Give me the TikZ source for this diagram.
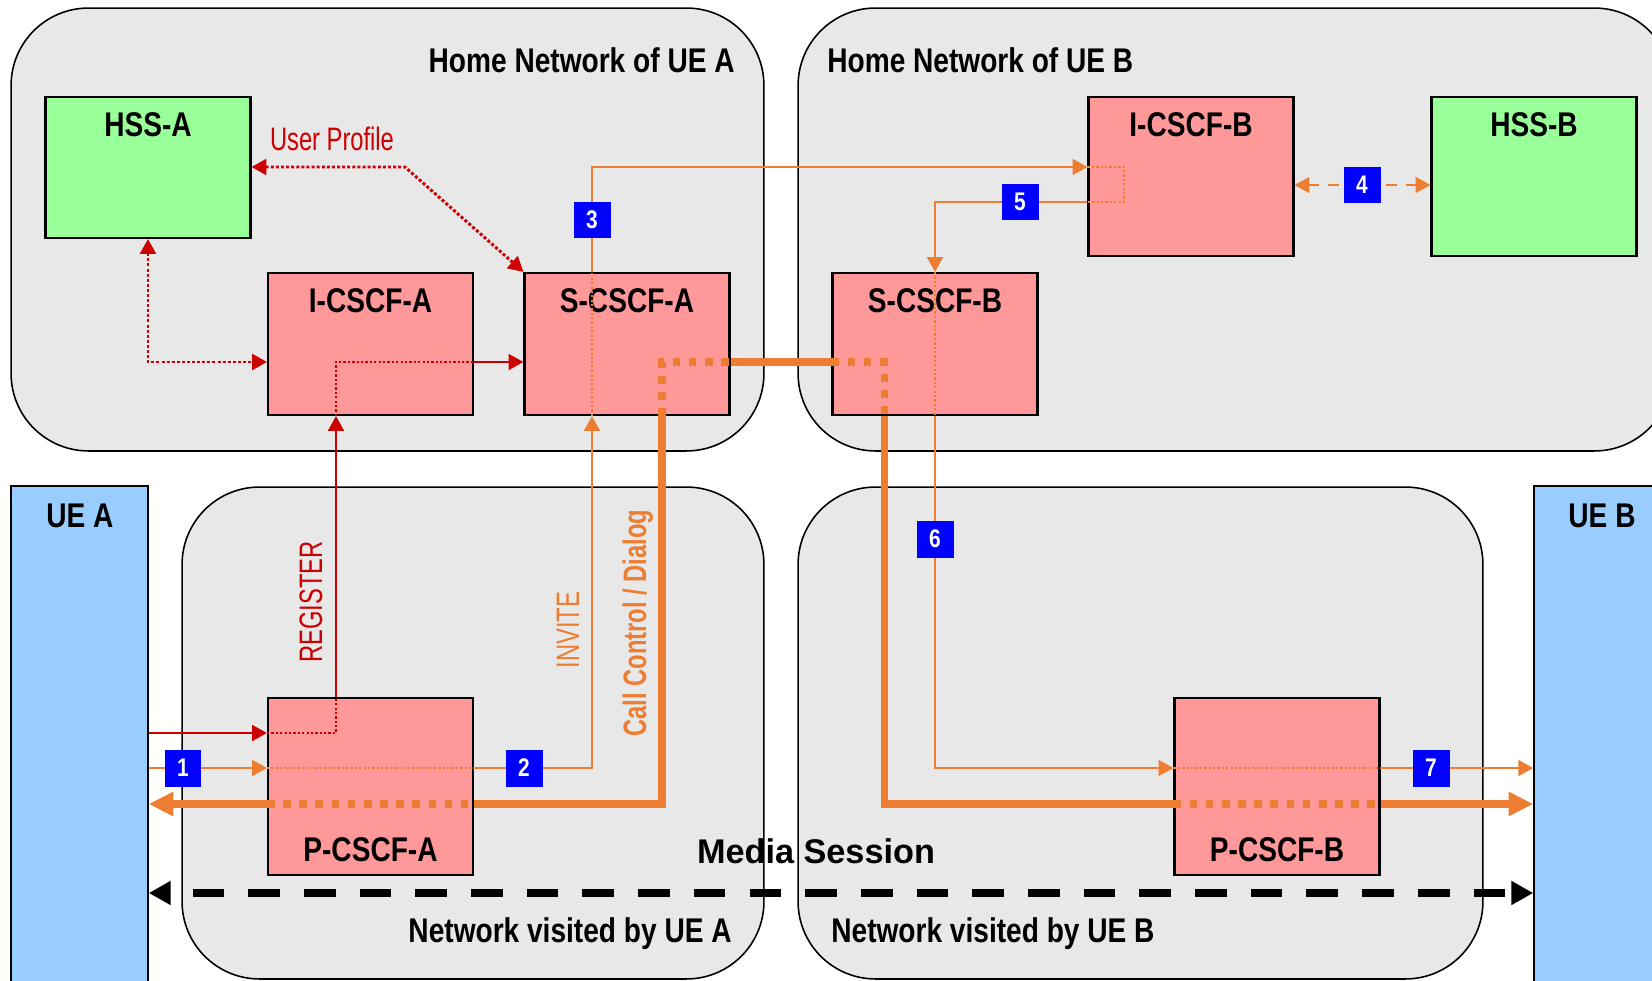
\documentclass[tikz,border=0pt]{standalone}
\usepackage{fontspec}
\setmainfont{Liberation Sans}
\newfontfamily\narrowfont[FakeStretch=0.82]{Liberation Sans}
\newfontfamily\slimfont[FakeStretch=0.73]{Liberation Sans}
\usetikzlibrary{arrows.meta}

\definecolor{netgray}{HTML}{E8E8E8}
\definecolor{cscfpink}{HTML}{FF9999}
\definecolor{hssgreen}{HTML}{99FF99}
\definecolor{ueblue}{HTML}{99CCFF}
\definecolor{sipred}{HTML}{CC0000}
\definecolor{sipor}{HTML}{ED7D31}
\definecolor{tagblue}{HTML}{0000FF}

\tikzset{
    Tin/.tip={Triangle[length=8.5pt,width=9pt]},
    Tbig/.tip={Triangle[length=14pt,width=13pt]},
    Tmed/.tip={Triangle[length=12.5pt,width=13pt]},
}

\begin{document}
\begin{tikzpicture}[x=0.02cm, y=-0.02cm,
    net/.style={draw, line width=0.9pt, fill=netgray, rounded corners=1.55cm},
    ue/.style={draw, line width=0.9pt, fill=ueblue, minimum width=2.74cm, minimum height=10.4cm},
    cscf/.style={draw, line width=1.2pt, fill=cscfpink, minimum width=4.1cm},
    hss/.style={draw, line width=1.2pt, fill=hssgreen, minimum width=4.1cm},
    bigtxt/.style={inner sep=0pt, font=\narrowfont\bfseries\fontsize{19.5}{20}\selectfont},
    boxtop/.style={bigtxt, anchor=base, yshift=-0.82cm},
    boxbot/.style={bigtxt, anchor=base, yshift=0.3cm},
    msg/.style={inner sep=0pt, font=\slimfont\fontsize{18.5}{19}\selectfont},
    callmsg/.style={inner sep=0pt, font=\slimfont\bfseries\fontsize{18.5}{19}\selectfont},
    tag/.style={fill=tagblue, text=white, minimum size=0.74cm, inner sep=0pt,
        font=\narrowfont\bfseries\fontsize{14.5}{15}\selectfont},
    sred/.style={sipred, line width=1.3pt},
    sredin/.style={sipred, line width=1.3pt, dash pattern=on 1.3pt off 1.2pt},
    hssdot/.style={sipred, line width=1.7pt, dash pattern=on 1.7pt off 1.2pt},
    sor/.style={sipor, line width=1.3pt},
    sorin/.style={sipor, line width=1.3pt, dash pattern=on 1.3pt off 1.2pt},
    call/.style={sipor, line width=4pt},
    callin/.style={sipor, line width=4pt, dash pattern=on 4.3pt off 4.9pt},
    media/.style={line width=4pt, dash pattern=on 18pt off 13.7pt, dash phase=18.5pt}]

    \useasboundingbox (0,0) rectangle (1652,980);
    \clip (0,0) rectangle (1652,980);
    \fill[white] (0,0) rectangle (1652,980);

    % networks
    \node[net, minimum width=15.06cm, minimum height=8.86cm] (homeA) at (387.5,229.5) {};
    \node[net, minimum width=17.48cm, minimum height=8.86cm] (homeB) at (1235,229.5) {};
    \node[net, minimum width=11.64cm, minimum height=9.84cm] (visA) at (473,733) {};
    \node[net, minimum width=13.7cm, minimum height=9.84cm] (visB) at (1140.5,733) {};

    \node[ue] (uea) at (79.5,746) {};
    \node[ue] (ueb) at (1602.5,746) {};

    \node[bigtxt, anchor=base east] (tHomeA) at (735,72) {Home Network of UE A};
    \node[bigtxt, anchor=base west] (tHomeB) at (827,72) {Home Network of UE B};
    \node[bigtxt, anchor=base east] (tVisA) at (732,942) {Network visited by UE A};
    \node[bigtxt, anchor=base west] (tVisB) at (831,942) {Network visited by UE B};
    \node[bigtxt, anchor=base] (tUeA) at (80,527) {UE A};
    \node[bigtxt, anchor=base] (tUeB) at (1602,527) {UE B};

    % functions
    \node[hss, minimum height=2.82cm, label={[boxtop]north:HSS-A}] (hssa) at (148,167.5) {};
    \node[cscf, minimum height=2.84cm, label={[boxtop]north:I-CSCF-A}] (icscfa) at (370.5,344) {};
    \node[cscf, minimum height=2.84cm, label={[boxtop]north:S-CSCF-A}] (scscfa) at (627,344) {};
    \node[cscf, minimum height=2.84cm, label={[boxtop]north:S-CSCF-B}] (scscfb) at (935,344) {};
    \node[cscf, minimum height=3.18cm, label={[boxtop]north:I-CSCF-B}] (icscfb) at (1191,176.5) {};
    \node[hss, minimum height=3.18cm, label={[boxtop]north:HSS-B}] (hssb) at (1534,176.5) {};
    \node[cscf, minimum height=3.54cm, label={[boxbot]south:P-CSCF-A}] (pcscfa) at (370.5,786.5) {};
    \node[cscf, minimum height=3.54cm, label={[boxbot]south:P-CSCF-B}] (pcscfb) at (1277,786.5) {};

    % registration
    \draw[sred, -Tin] (uea.east |- 0,733) -- (pcscfa.west |- 0,733);
    \draw[sredin] (pcscfa.west |- 0,733) -| (336,0 |- pcscfa.north);
    \draw[sred, -Tin] (336,0 |- pcscfa.north) -- (336,0 |- icscfa.south);
    \draw[sredin] (336,0 |- icscfa.south) |- (icscfa.east |- 0,362);
    \draw[sred, -Tin] (icscfa.east |- 0,362) -- (scscfa.west |- 0,362);
    \draw[hssdot, Tin-Tin] (hssa.south) |- (icscfa.west |- 0,362);
    \draw[hssdot, Tin-Tin] (hssa.east |- 0,167) -- (405,167) -- (scscfa.north west);

    % invite
    \draw[sor, -Tin] (uea.east |- 0,768) -- (pcscfa.west |- 0,768);
    \draw[sorin] (pcscfa.west |- 0,768) -- (pcscfa.east |- 0,768);
    \draw[sor, -Tin] (pcscfa.east |- 0,768) -| (592,0 |- scscfa.south);
    \draw[sorin] (592,0 |- scscfa.south) -- (592,0 |- scscfa.north);
    \draw[sor, -Tin] (592,0 |- scscfa.north) |- (icscfb.west |- 0,167);
    \draw[sorin] (icscfb.west |- 0,167) -| (1124,202) -- (icscfb.west |- 0,202);
    \draw[sor, -Tin] (icscfb.west |- 0,202) -| (scscfb.north);
    \draw[sorin] (scscfb.north) -- (scscfb.south);
    \draw[sor, -Tin] (scscfb.south) |- (pcscfb.west |- 0,768);
    \draw[sorin] (pcscfb.west |- 0,768) -- (pcscfb.east |- 0,768);
    \draw[sor, -Tin] (pcscfb.east |- 0,768) -- (ueb.west |- 0,768);
    \draw[sor, dash pattern=on 6pt off 5pt, Tin-Tin] (icscfb.east |- 0,185) -- (hssb.west |- 0,185);

    % call control / dialog
    \draw[call, Tbig-] (uea.east |- 0,804) -- (pcscfa.west |- 0,804);
    \draw[callin] (pcscfa.west |- 0,804) -- (pcscfa.east |- 0,804);
    \draw[call] (pcscfa.east |- 0,804) -| (662,0 |- scscfa.south);
    \draw[callin] (662,0 |- scscfa.south) |- (scscfa.east |- 0,362);
    \draw[call] (scscfa.east |- 0,362) -- (scscfb.west |- 0,362);
    \draw[callin] (scscfb.west |- 0,362) -| (884,0 |- scscfb.south);
    \draw[call] (884,0 |- scscfb.south) |- (pcscfb.west |- 0,804);
    \draw[callin] (pcscfb.west |- 0,804) -- (pcscfb.east |- 0,804);
    \draw[call, -Tbig] (pcscfb.east |- 0,804) -- (ueb.west |- 0,804);

    % media
    \draw[media, Tmed-Tmed] (uea.east |- 0,893) -- (ueb.west |- 0,893);

    \node[msg, text=sipred, anchor=base] (lProf) at (332,150) {User Profile};
    \node[msg, text=sipred, rotate=90, anchor=base] (lReg) at (322,602) {REGISTER};
    \node[msg, text=sipor, rotate=90, anchor=base] (lInv) at (579,630) {INVITE};
    \node[callmsg, text=sipor, rotate=90, anchor=base] (lCall) at (646,623) {Call Control / Dialog};
    \node[inner sep=0pt, anchor=base, font=\bfseries\fontsize{19.5}{20}\selectfont] (lMedia) at (816,863) {Media Session};

    \node[tag] (n1) at (183,768) {1};
    \node[tag] (n2) at (524,768) {2};
    \node[tag] (n3) at (592,220) {3};
    \node[tag] (n4) at (1362,185) {4};
    \node[tag] (n5) at (1020,202) {5};
    \node[tag] (n6) at (935,539) {6};
    \node[tag] (n7) at (1431,768) {7};
\end{tikzpicture}
\end{document}
